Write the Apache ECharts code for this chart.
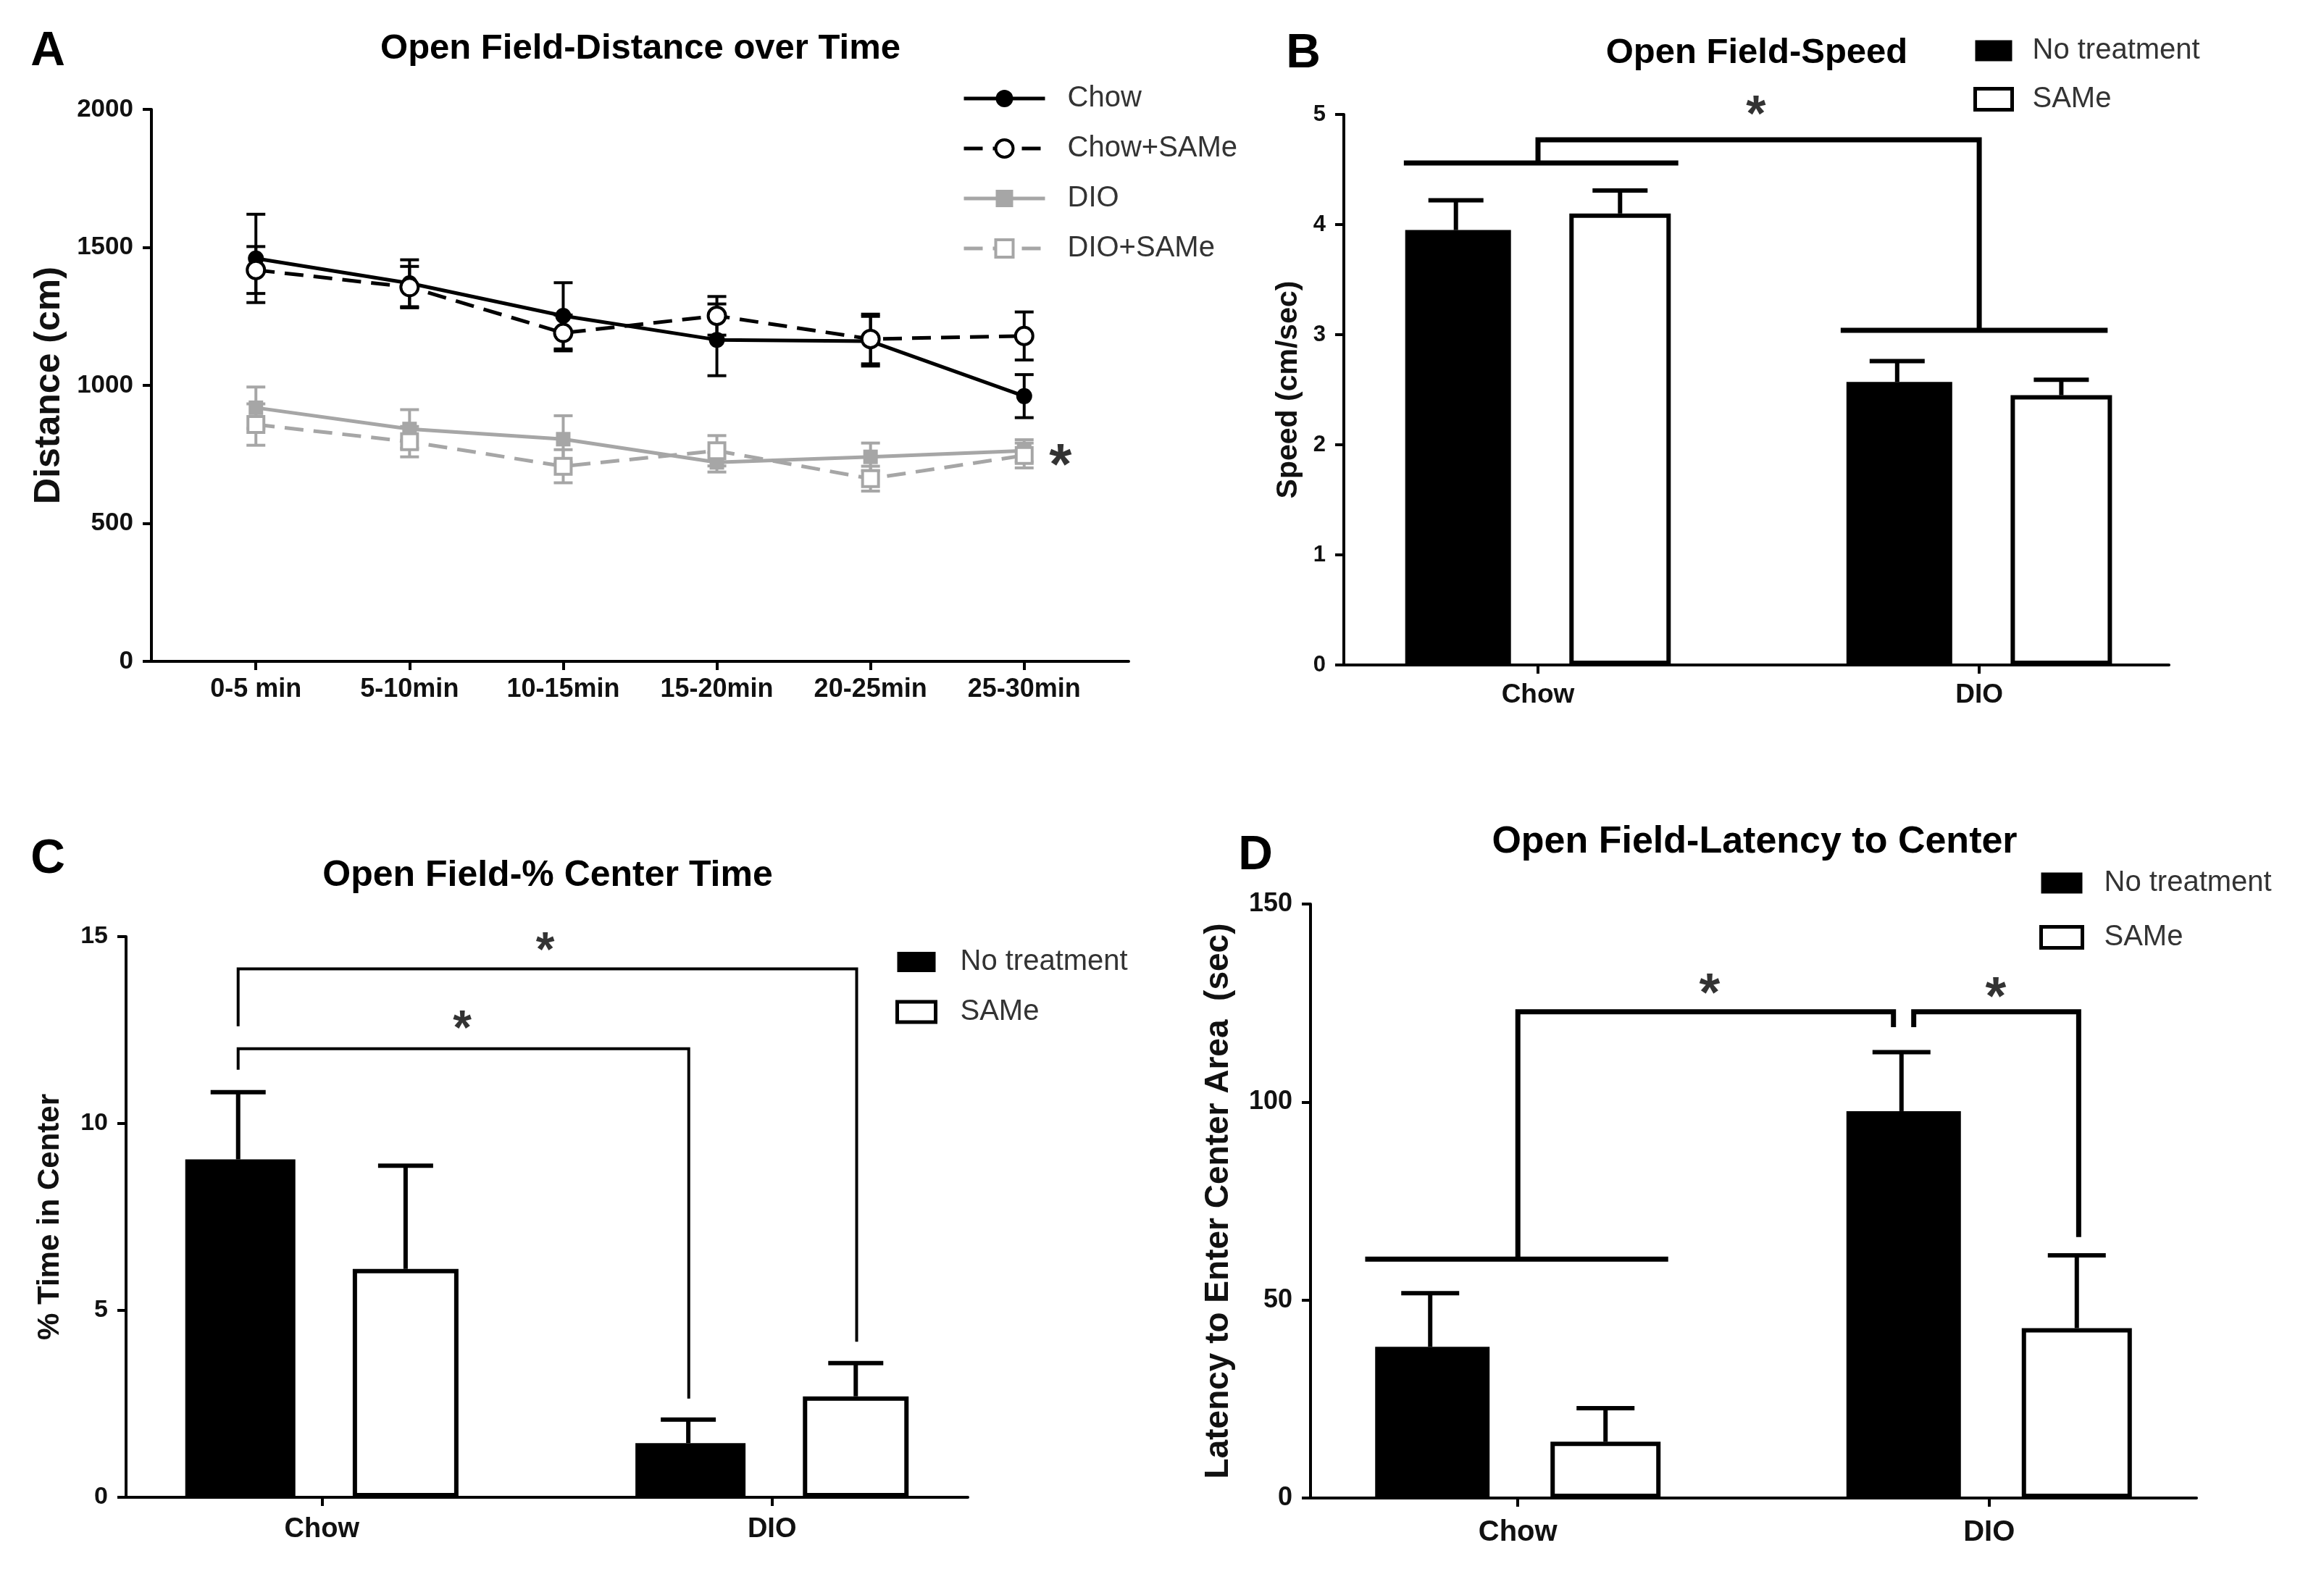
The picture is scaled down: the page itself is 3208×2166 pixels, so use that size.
<!DOCTYPE html>
<html>
<head>
<meta charset="utf-8">
<title>Open Field</title>
<script src="https://cdn.jsdelivr.net/npm/echarts@6.0.0/dist/echarts.min.js"></script>
<style>
  html, body { margin: 0; padding: 0; background: #fff; }
  #chart { width: 3208px; height: 2166px; }
</style>
</head>
<body>
<div id="chart"></div>
<script>
// ---- Panel A: distance over time (cm) ----
const timeBins = ['0-5 min', '5-10min', '10-15min', '15-20min', '20-25min', '25-30min'];
const chowDist = [1460, 1370, 1252, 1165, 1160, 961];
const chowDistErr = [160, 85, 120, 130, 90, 78];
const chowSameDist = [1418, 1356, 1190, 1252, 1168, 1179];
const chowSameDistErr = [85, 75, 65, 70, 90, 87];
const dioDist = [919, 842, 805, 721, 741, 763];
const dioDistErr = [75, 70, 85, 35, 50, 40];
const dioSameDist = [858, 796, 707, 763, 662, 746];
const dioSameDistErr = [75, 55, 60, 55, 45, 45];
const distTicks = [0, 500, 1000, 1500, 2000];

// ---- Panels B-D: bar groups ----
const groups = ['Chow', 'DIO'];
const speedNoTx = [3.95, 2.57];
const speedNoTxErr = [0.27, 0.19];
const speedSame = [4.10, 2.45];
const speedSameErr = [0.21, 0.14];

const centerNoTx = [9.04, 1.45];
const centerNoTxErr = [1.80, 0.63];
const centerSame = [6.11, 2.70];
const centerSameErr = [2.76, 0.89];

const latencyNoTx = [38.2, 97.7];
const latencyNoTxErr = [13.5, 14.9];
const latencySame = [14.2, 42.9];
const latencySameErr = [8.5, 18.4];

// significance brackets, in data units of each panel
const bracketsB = [
  [[-0.304, 4.56], [0.318, 4.56]],
  [[0.686, 3.04], [1.291, 3.04]],
  [[0, 4.56], [0, 4.77], [1.0, 4.77], [1.0, 3.04]]
];
const bracketsC = [
  [[-0.186, 12.6], [-0.186, 14.14], [1.188, 14.14], [1.188, 4.16]],
  [[-0.186, 11.44], [-0.186, 12.0], [0.815, 12.0], [0.815, 2.64]]
];
const bracketsD = [
  [[-0.324, 60.3], [0.319, 60.3]],
  [[0, 60.3], [0, 122.8], [0.797, 122.8], [0.797, 118.9]],
  [[0.840, 118.9], [0.840, 122.8], [1.19, 122.8], [1.19, 65.9]]
];
const starsA = [[5.236, 743]];
const starsB = [[0.494, 5.07]];
const starsC = [[0.496, 14.83], [0.312, 12.74]];
const starsD = [[0.407, 129.5], [1.014, 128.6]];

const FONT = '"Liberation Sans", Arial, sans-serif';
const GRAY = '#a6a6a6';
const BAR_SHIFT = 0.186; // bar centre offset from group tick

const chart = echarts.init(document.getElementById('chart'), null, { renderer: 'canvas' });

function yAxisOf(gi, max, interval, name, nameGap, nameSize, labelSize) {
  return {
    type: 'value', gridIndex: gi, min: 0, max: max, interval: interval,
    name: name, nameLocation: 'middle', nameGap: nameGap,
    nameTextStyle: { fontSize: nameSize, fontWeight: 'bold', color: '#111', fontFamily: FONT },
    axisLine: { show: true, onZero: false, lineStyle: { color: '#000', width: 4 } },
    axisTick: { show: true, length: 12, lineStyle: { color: '#000', width: 4 } },
    axisLabel: {
      fontSize: labelSize, fontWeight: 'bold', color: '#111', margin: 25, fontFamily: FONT,
      formatter: v => String(v)
    },
    splitLine: { show: false }
  };
}

function xAxisOf(gi, min, max, labels, labelSize, margin) {
  const vals = labels.map((_, i) => i);
  return {
    type: 'value', gridIndex: gi, min: min, max: max,
    axisLine: { show: true, onZero: false, lineStyle: { color: '#000', width: 4 } },
    axisTick: { show: true, length: 12, customValues: vals, lineStyle: { color: '#000', width: 4 } },
    axisLabel: {
      customValues: vals, fontSize: labelSize, fontWeight: 'bold', color: '#111',
      margin: margin, fontFamily: FONT,
      formatter: v => labels[Math.round(v)]
    },
    splitLine: { show: false }
  };
}

function errorBars(axis, points, color, capPx, width, bothSides) {
  return {
    type: 'custom', xAxisIndex: axis, yAxisIndex: axis, silent: true, z: 4,
    data: points,
    renderItem(params, api) {
      const x = api.value(0), m = api.value(1), e = api.value(2);
      const top = api.coord([x, m + e]);
      const bot = api.coord([x, bothSides ? m - e : m]);
      const h = capPx / 2;
      const st = { stroke: color, lineWidth: width };
      const kids = [
        { type: 'line', shape: { x1: top[0], y1: top[1], x2: bot[0], y2: bot[1] }, style: st },
        { type: 'line', shape: { x1: top[0] - h, y1: top[1], x2: top[0] + h, y2: top[1] }, style: st }
      ];
      if (bothSides) {
        kids.push({ type: 'line', shape: { x1: bot[0] - h, y1: bot[1], x2: bot[0] + h, y2: bot[1] }, style: st });
      }
      return { type: 'group', children: kids };
    }
  };
}

function lineSeries(name, vals, color, dashed, symbol, filled, size) {
  return {
    name: name, type: 'line', xAxisIndex: 0, yAxisIndex: 0, z: 5,
    data: vals.map((v, i) => [i, v]),
    symbol: symbol, symbolSize: size, showAllSymbol: true,
    lineStyle: { color: color, width: 5, type: dashed ? [26, 14] : 'solid' },
    itemStyle: { color: filled ? color : '#fff', borderColor: color, borderWidth: filled ? 0 : 4 },
    emphasis: { disabled: true }
  };
}

function barSeries(name, axis, vals, black, width) {
  const shift = black ? -BAR_SHIFT : BAR_SHIFT;
  return {
    name: name, type: 'bar', xAxisIndex: axis, yAxisIndex: axis, z: 3,
    data: vals.map((v, i) => [i + shift, v]),
    barWidth: width, barGap: '-100%',
    itemStyle: black ? { color: '#000' } : { color: '#fff', borderColor: '#000', borderWidth: 6 },
    emphasis: { disabled: true }
  };
}

function errPoints(vals, errs, black) {
  const shift = black ? -BAR_SHIFT : BAR_SHIFT;
  return vals.map((v, i) => [i + shift, v, errs[i]]);
}

function bracketSeries(axis, paths, width) {
  return {
    type: 'lines', coordinateSystem: 'cartesian2d', xAxisIndex: axis, yAxisIndex: axis,
    polyline: true, silent: true, z: 6,
    lineStyle: { color: '#000', width: width, opacity: 1, join: 'miter', cap: 'butt' },
    data: paths.map(p => ({ coords: p }))
  };
}

function starSeries(axis, pts, size) {
  return {
    type: 'scatter', xAxisIndex: axis, yAxisIndex: axis, silent: true, clip: false, z: 7,
    symbolSize: 1, itemStyle: { color: 'rgba(0,0,0,0)' },
    data: pts,
    label: {
      show: true, position: 'inside', formatter: '*', fontSize: size, fontWeight: 'bold',
      color: '#000', fontFamily: FONT, offset: [0, size * 0.2]
    }
  };
}

function textEl(text, x, y, size) {
  return {
    type: 'text', x: x, y: y, silent: true,
    style: {
      text: text, fontSize: size, fontWeight: 'bold', fontFamily: FONT, fill: '#000',
      align: 'center', verticalAlign: 'middle', textAlign: 'center', textVerticalAlign: 'middle'
    }
  };
}

const barLegendData = [
  { name: 'No treatment', itemStyle: { color: '#000', borderWidth: 0 } },
  { name: 'SAMe', itemStyle: { color: '#fff', borderColor: '#000', borderWidth: 5 } }
];

function barLegend(left, top, w, h, gap, pad) {
  return {
    orient: 'vertical', left: left, top: top, icon: 'rect',
    itemWidth: w, itemHeight: h, itemGap: gap, padding: 0, selectedMode: false,
    data: barLegendData,
    textStyle: { fontSize: 40, lineHeight: 40, color: '#333', fontFamily: FONT, padding: [0, 0, 0, pad] }
  };
}

const option = {
  backgroundColor: '#fff',
  animation: false,
  graphic: [
    textEl('A', 66, 72, 66),
    textEl('Open Field-Distance over Time', 884, 67, 49),
    textEl('B', 1799, 75, 66),
    textEl('Open Field-Speed', 2425, 73, 49),
    textEl('C', 66, 1187, 66),
    textEl('Open Field-% Center Time', 756, 1209, 50),
    textEl('D', 1733, 1182, 66),
    textEl('Open Field-Latency to Center', 2422, 1163, 52)
  ],
  grid: [
    { left: 209, top: 151, width: 1349, height: 762 },
    { left: 1855, top: 158, width: 1139, height: 760 },
    { left: 174, top: 1293, width: 1162, height: 774 },
    { left: 1809, top: 1248, width: 1223, height: 820 }
  ],
  xAxis: [
    xAxisOf(0, -0.68, 5.68, timeBins, 36, 21),
    xAxisOf(1, -0.44, 1.43, groups, 37, 23),
    xAxisOf(2, -0.435, 1.435, groups, 38, 26),
    xAxisOf(3, -0.44, 1.44, groups, 40, 28)
  ],
  yAxis: [
    yAxisOf(0, distTicks[distTicks.length - 1], distTicks[1] - distTicks[0], 'Distance (cm)', 116, 50, 35),
    yAxisOf(1, 5, 1, 'Speed (cm/sec)', 56, 41, 31),
    yAxisOf(2, 15, 5, '% Time in Center', 84, 42, 34),
    yAxisOf(3, 150, 50, 'Latency to Enter Center Area  (sec)', 104, 46, 36)
  ],
  legend: [
    {
      orient: 'vertical', left: 1328, top: 116, itemWidth: 112, itemHeight: 30, itemGap: 29,
      padding: 0, selectedMode: false,
      data: [
        { name: 'Chow', lineStyle: { width: 5 } },
        { name: 'Chow+SAMe', lineStyle: { width: 5 }, itemStyle: { borderWidth: 4 } },
        { name: 'DIO', lineStyle: { width: 5 } },
        { name: 'DIO+SAMe', lineStyle: { width: 5 }, itemStyle: { borderWidth: 4 } }
      ],
      textStyle: { fontSize: 40, lineHeight: 40, color: '#333', fontFamily: FONT, padding: [0, 0, 0, 26] }
    },
    barLegend(2724, 50, 51, 29, 27, 23),
    barLegend(1236, 1308, 53, 28, 29, 29),
    barLegend(2815, 1199, 57, 29, 35, 25)
  ],
  series: [
    // Panel A
    errorBars(0, dioDist.map((v, i) => [i, v, dioDistErr[i]]), GRAY, 26, 4, true),
    errorBars(0, dioSameDist.map((v, i) => [i, v, dioSameDistErr[i]]), GRAY, 26, 4, true),
    lineSeries('DIO', dioDist, GRAY, false, 'rect', true, 20),
    lineSeries('DIO+SAMe', dioSameDist, GRAY, true, 'rect', false, 22),
    errorBars(0, chowDist.map((v, i) => [i, v, chowDistErr[i]]), '#000', 26, 4, true),
    errorBars(0, chowSameDist.map((v, i) => [i, v, chowSameDistErr[i]]), '#000', 26, 4, true),
    lineSeries('Chow', chowDist, '#000', false, 'circle', true, 22),
    lineSeries('Chow+SAMe', chowSameDist, '#000', true, 'circle', false, 24),
    starSeries(0, starsA, 80),

    // Panel B
    barSeries('No treatment', 1, speedNoTx, true, 146),
    barSeries('SAMe', 1, speedSame, false, 140),
    errorBars(1, errPoints(speedNoTx, speedNoTxErr, true), '#000', 76, 6, false),
    errorBars(1, errPoints(speedSame, speedSameErr, false), '#000', 76, 6, false),
    bracketSeries(1, bracketsB, 7),
    starSeries(1, starsB, 70),

    // Panel C
    barSeries('No treatment', 2, centerNoTx, true, 152),
    barSeries('SAMe', 2, centerSame, false, 146),
    errorBars(2, errPoints(centerNoTx, centerNoTxErr, true), '#000', 76, 6, false),
    errorBars(2, errPoints(centerSame, centerSameErr, false), '#000', 76, 6, false),
    bracketSeries(2, bracketsC, 4),
    starSeries(2, starsC, 66),

    // Panel D
    barSeries('No treatment', 3, latencyNoTx, true, 158),
    barSeries('SAMe', 3, latencySame, false, 152),
    errorBars(3, errPoints(latencyNoTx, latencyNoTxErr, true), '#000', 80, 6, false),
    errorBars(3, errPoints(latencySame, latencySameErr, false), '#000', 80, 6, false),
    bracketSeries(3, bracketsD, 7),
    starSeries(3, starsD, 74)
  ]
};

chart.setOption(option);
window.addEventListener('resize', () => chart.resize());
</script>
</body>
</html>
